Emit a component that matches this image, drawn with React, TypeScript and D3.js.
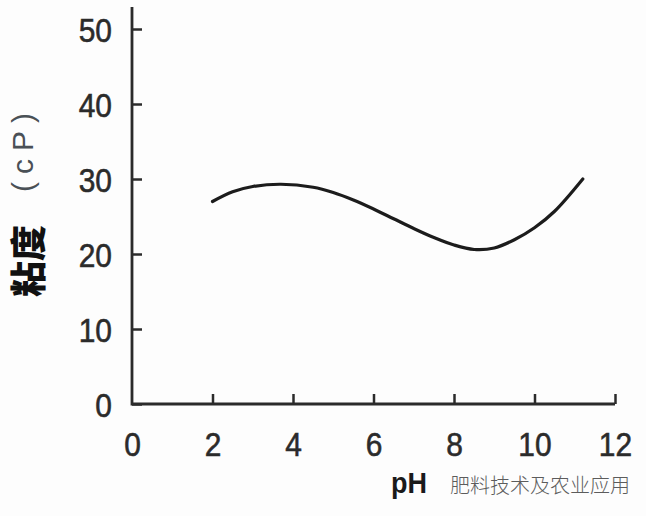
import React, { useEffect, useRef } from 'react';
import * as d3 from 'd3';

// viscosity (cP) at each pH
const phValues = [2.0, 2.5, 3.0, 3.7, 4.5, 5.0, 5.5, 6.0, 6.5, 7.0, 7.5, 8.0, 8.5, 9.0, 9.5, 10.0, 10.5, 11.2];
const viscosity = [27.0, 28.3, 29.0, 29.3, 28.9, 28.2, 27.2, 26.0, 24.7, 23.4, 22.2, 21.2, 20.6, 20.8, 21.9, 23.5, 25.7, 30.0];

const xTicks = [0, 2, 4, 6, 8, 10, 12];
const yTicks = [0, 10, 20, 30, 40, 50];

const yLabelMain = '粘度';
const yLabelUnit = '(cP)';
const xLabel = 'pH';
const watermark = '肥料技术及农业应用';

const tickFont = "'Liberation Sans', Arial, sans-serif";

const App: React.FC = () => {
  const svgRef = useRef<SVGSVGElement>(null);

  useEffect(() => {
    if (!svgRef.current) return;
    const svg = d3.select(svgRef.current);
    svg.selectAll('*').remove();

    const x = d3.scaleLinear().domain([0, 12]).range([132, 615]);
    const y = d3.scaleLinear().domain([0, 50]).range([404, 29]);

    svg.append('rect').attr('width', 646).attr('height', 516).attr('fill', '#fdfdfd');

    // axes (ticks pointing inward)
    const xAxis = svg.append('g')
      .attr('transform', `translate(0,${y(0)})`)
      .call(d3.axisBottom(x).tickValues(xTicks).tickSize(-10).tickPadding(0).tickFormat(d3.format('d')));
    const yAxis = svg.append('g')
      .attr('transform', `translate(${x(0)},0)`)
      .call(d3.axisLeft(y).tickValues(yTicks).tickSize(-10).tickPadding(0).tickFormat(d3.format('d')));

    [xAxis, yAxis].forEach(a => {
      a.select('.domain').remove();
      a.selectAll('line').attr('stroke', '#2b2b2b').attr('stroke-width', 2.5);
      a.selectAll('text')
        .attr('fill', '#2b2b2b')
        .attr('stroke', '#2b2b2b')
        .attr('stroke-width', 0.6)
        .style('font-family', tickFont)
        .style('font-size', '34px');
    });
    // condensed digits: squeeze horizontally
    xAxis.selectAll('text')
      .attr('y', 0)
      .attr('dy', 0)
      .attr('transform', 'translate(0,52) scale(0.88,1)');
    yAxis.selectAll('text')
      .attr('x', 0)
      .attr('dy', 0)
      .attr('transform', 'translate(-20,12) scale(0.88,1)');
    xAxis.selectAll('.tick').filter((d: any) => d === 0).select('line').remove();

    // axis lines
    svg.append('path')
      .attr('d', `M${x(0)},7V${y(0)}H${x(12)}`)
      .attr('fill', 'none')
      .attr('stroke', '#2b2b2b')
      .attr('stroke-width', 2.8);

    // curve
    const pts = phValues.map((p, i) => [p, viscosity[i]] as [number, number]);
    const line = d3.line<[number, number]>()
      .x(d => x(d[0]))
      .y(d => y(d[1]))
      .curve(d3.curveCatmullRom.alpha(0.5));
    svg.append('path')
      .datum(pts)
      .attr('d', line)
      .attr('fill', 'none')
      .attr('stroke', '#1c1c1c')
      .attr('stroke-width', 3.2)
      .attr('stroke-linecap', 'round');

    // y label
    svg.append('text')
      .attr('transform', 'translate(42,297) rotate(-90)')
      .style('font-family', "'Noto Sans CJK SC', sans-serif")
      .style('font-size', '36px')
      .style('font-weight', 900)
      .attr('fill', '#111')
      .text(yLabelMain);
    svg.append('text')
      .attr('transform', 'translate(33,192) rotate(-90)')
      .style('font-family', "'Liberation Sans', sans-serif")
      .style('font-size', '30px')
      .style('letter-spacing', '8px')
      .attr('fill', '#4a5056')
      .text(yLabelUnit);

    // x label
    svg.append('text')
      .attr('transform', 'translate(391,493) scale(0.9,1)')
      .style('font-family', tickFont)
      .style('font-size', '30px')
      .style('font-weight', 700)
      .attr('fill', '#1a1a1a')
      .text(xLabel);

    // watermark
    svg.append('text')
      .attr('x', 450)
      .attr('y', 493)
      .style('font-family', "'Noto Sans CJK SC', sans-serif")
      .style('font-size', '20px')
      .style('font-weight', 300)
      .attr('fill', '#5c5c5c')
      .text(watermark);
  }, []);

  return (
    <svg
      ref={svgRef}
      width={646}
      height={516}
      style={{ position: 'absolute', left: 0, top: 0 }}
    />
  );
};

export default App;
